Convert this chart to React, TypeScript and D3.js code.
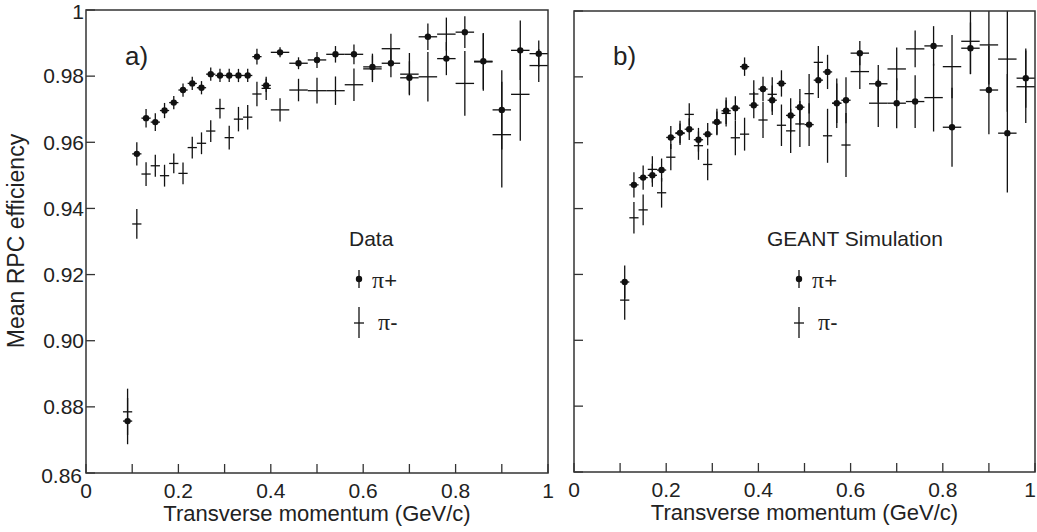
import React from "react";
import * as d3 from "d3";

// ---------- data ----------
const leftX = [0.09, 0.11, 0.13, 0.15, 0.17, 0.19, 0.21, 0.23, 0.25, 0.27, 0.29, 0.31, 0.33, 0.35, 0.37, 0.39,
  0.42, 0.46, 0.50, 0.54, 0.58, 0.62, 0.66, 0.70, 0.74, 0.78, 0.82, 0.86, 0.90, 0.94, 0.98];
const leftXErr = [0.01, 0.01, 0.01, 0.01, 0.01, 0.01, 0.01, 0.01, 0.01, 0.01, 0.01, 0.01, 0.01, 0.01, 0.01, 0.01,
  0.02, 0.02, 0.02, 0.02, 0.02, 0.02, 0.02, 0.02, 0.02, 0.02, 0.02, 0.02, 0.02, 0.02, 0.02];
const leftPiPlus = [0.8757, 0.9565, 0.9673, 0.9661, 0.9696, 0.9720, 0.9758, 0.9778, 0.9765, 0.9806, 0.9802, 0.9802,
  0.9802, 0.9802, 0.9859, 0.9772, 0.9872, 0.9839, 0.9849, 0.9866, 0.9866, 0.9828, 0.9839, 0.9795, 0.9919, 0.9853,
  0.9933, 0.9845, 0.9698, 0.9878, 0.9868];
const leftPiPlusErr = [0.007, 0.0035, 0.0028, 0.0027, 0.0023, 0.002, 0.002, 0.002, 0.002, 0.002, 0.002, 0.002,
  0.002, 0.002, 0.0024, 0.002, 0.0015, 0.0018, 0.0024, 0.0025, 0.003, 0.004, 0.0042, 0.005, 0.004, 0.005,
  0.0048, 0.0085, 0.012, 0.009, 0.004];
const leftPiMinus = [0.8785, 0.9353, 0.9504, 0.9529, 0.9499, 0.9536, 0.9506, 0.9584, 0.9597, 0.9634, 0.9702, 0.9614,
  0.967, 0.9676, 0.9746, 0.9763, 0.9698, 0.9758, 0.9756, 0.9756, 0.9774, 0.9822, 0.9883, 0.9806, 0.9798, 0.9927,
  0.9778, 0.9843, 0.9623, 0.9745, 0.9832];
const leftPiMinusErr = [0.007, 0.0045, 0.0036, 0.0033, 0.0033, 0.003, 0.0033, 0.0033, 0.0033, 0.0033, 0.003, 0.0036,
  0.0037, 0.0037, 0.0037, 0.0035, 0.0035, 0.0034, 0.0039, 0.0043, 0.0049, 0.004, 0.0045, 0.0064, 0.0075, 0.005,
  0.0098, 0.0087, 0.016, 0.014, 0.005];

const rightX = [0.11, 0.13, 0.15, 0.17, 0.19, 0.21, 0.23, 0.25, 0.27, 0.29, 0.31, 0.33, 0.35, 0.37, 0.39, 0.41,
  0.43, 0.45, 0.47, 0.49, 0.51, 0.53, 0.55, 0.57, 0.59, 0.62, 0.66, 0.70, 0.74, 0.78, 0.82, 0.86, 0.90, 0.94, 0.98];
const rightXErr = [0.01, 0.01, 0.01, 0.01, 0.01, 0.01, 0.01, 0.01, 0.01, 0.01, 0.01, 0.01, 0.01, 0.01, 0.01, 0.01,
  0.01, 0.01, 0.01, 0.01, 0.01, 0.01, 0.01, 0.01, 0.01, 0.02, 0.02, 0.02, 0.02, 0.02, 0.02, 0.02, 0.02, 0.02, 0.02];
const rightPiPlus = [0.9177, 0.9472, 0.9494, 0.9501, 0.9517, 0.9616, 0.963, 0.9641, 0.9609, 0.9626, 0.9663, 0.9697,
  0.9705, 0.9831, 0.9714, 0.9763, 0.9729, 0.978, 0.9683, 0.9708, 0.9655, 0.979, 0.9815, 0.972, 0.9729, 0.9872,
  0.9779, 0.972, 0.9725, 0.9894, 0.9647, 0.9887, 0.976, 0.9629, 0.9796];
const rightPiPlusErr = [0.005, 0.0038, 0.0037, 0.0035, 0.0035, 0.0035, 0.0037, 0.0033, 0.0036, 0.0034, 0.004, 0.004,
  0.0036, 0.0028, 0.004, 0.0037, 0.0045, 0.004, 0.0052, 0.0055, 0.0065, 0.0054, 0.0052, 0.006, 0.007, 0.0037,
  0.0057, 0.0076, 0.008, 0.006, 0.012, 0.0078, 0.0134, 0.018, 0.009];
const rightPiMinus = [0.9122, 0.9372, 0.9396, 0.9519, 0.9448, 0.9556, 0.9628, 0.9686, 0.9591, 0.9534, 0.966, 0.9689,
  0.9615, 0.9626, 0.9748, 0.9669, 0.9747, 0.9653, 0.9636, 0.9657, 0.9749, 0.9844, 0.9621, 0.972, 0.9593, 0.9816,
  0.972, 0.9824, 0.9885, 0.9737, 0.9831, 0.9908, 0.9897, 0.9854, 0.977];
const rightPiMinusErr = [0.006, 0.0048, 0.0047, 0.004, 0.0045, 0.004, 0.003, 0.0034, 0.0043, 0.0048, 0.0035, 0.004,
  0.0053, 0.005, 0.0042, 0.0055, 0.0052, 0.0063, 0.0067, 0.007, 0.006, 0.005, 0.0082, 0.0075, 0.0097, 0.0053,
  0.0072, 0.0065, 0.0056, 0.0103, 0.0096, 0.01, 0.012, 0.016, 0.011];

const xTickValues = [0, 0.1, 0.2, 0.3, 0.4, 0.5, 0.6, 0.7, 0.8, 0.9, 1];
const xTickLabels = ["0", "", "0.2", "", "0.4", "", "0.6", "", "0.8", "", "1"];
const yTickValues = [0.86, 0.88, 0.9, 0.92, 0.94, 0.96, 0.98, 1];
const yTickLabels = ["0.86", "0.88", "0.90", "0.92", "0.94", "0.96", "0.98", "1"];

const SANS = "'Liberation Sans', Arial, Helvetica, sans-serif";
const SERIF = "'Liberation Serif', 'Times New Roman', serif";
const INK = "#111";

type PanelProps = {
  id: string;
  x0: number; x1: number; yTop: number; yBot: number;
  xs: number[]; xErr: number[];
  plus: number[]; plusErr: number[];
  minus: number[]; minusErr: number[];
  showYLabels: boolean;
  tag: string; tagX: number;
  legendTitle: string; legendX: number;
  legendMarkX: number;
};

function Panel(p: PanelProps) {
  const x = d3.scaleLinear().domain([0, 1]).range([p.x0, p.x1]);
  const y = d3.scaleLinear().domain([0.86, 1]).range([p.yBot, p.yTop]);
  const tick = 9;
  const errBar = (xv: number, xe: number, v: number, e: number, key: string, dot: boolean) => (
    <g key={key}>
      <line x1={x(xv)} x2={x(xv)} y1={y(v - e)} y2={y(v + e)} stroke={INK} strokeWidth={1.3} />
      <line x1={x(xv - xe)} x2={x(xv + xe)} y1={y(v)} y2={y(v)} stroke={INK} strokeWidth={1.3} />
      {dot && <circle cx={x(xv)} cy={y(v)} r={3.2} fill={INK} />}
    </g>
  );
  return (
    <g>
      <defs>
        <clipPath id={p.id}>
          <rect x={p.x0} y={p.yTop} width={p.x1 - p.x0} height={p.yBot - p.yTop} />
        </clipPath>
      </defs>
      <g clipPath={`url(#${p.id})`}>
        {p.xs.map((xv, i) => errBar(xv, p.xErr[i], p.minus[i], p.minusErr[i], `m${i}`, false))}
        {p.xs.map((xv, i) => errBar(xv, p.xErr[i], p.plus[i], p.plusErr[i], `p${i}`, true))}
      </g>
      {xTickValues.map((t, i) => (
        <g key={`xt${i}`}>
          <line x1={x(t)} x2={x(t)} y1={p.yBot} y2={p.yBot - tick} stroke="#333" strokeWidth={1.3} />
          {xTickLabels[i] !== "" && (
            <text x={Math.min(x(t), 1030)} y={p.yBot + 25} textAnchor="middle" fontFamily={SANS} fontSize={21} fill="#222">
              {xTickLabels[i]}
            </text>
          )}
        </g>
      ))}
      {yTickValues.map((t, i) => (
        <g key={`yt${i}`}>
          <line x1={p.x0} x2={p.x0 + tick} y1={y(t)} y2={y(t)} stroke="#333" strokeWidth={1.3} />
          {p.showYLabels && (
            <text x={p.x0 - (i === 0 ? 4 : 2)} y={y(t) + (i === 0 ? 3 : 0) + (i === yTickValues.length - 1 ? 2 : 0)} dy="0.35em"
              textAnchor="end" fontFamily={SANS} fontSize={21} fill="#222">
              {yTickLabels[i]}
            </text>
          )}
        </g>
      ))}
      <rect x={p.x0} y={p.yTop} width={p.x1 - p.x0} height={p.yBot - p.yTop} fill="none" stroke="#333" strokeWidth={1.5} />
      <text x={(p.x0 + p.x1) / 2} y={p.yBot + 48} textAnchor="middle" fontFamily={SANS} fontSize={22} fill="#222">
        Transverse momentum (GeV/c)
      </text>
      <text x={p.tagX} y={65} fontFamily={SANS} fontSize={26} fill="#222">{p.tag}</text>
      <text x={p.legendX} y={246} fontFamily={SANS} fontSize={21} fill="#222">{p.legendTitle}</text>
      <line x1={p.legendMarkX} x2={p.legendMarkX} y1={270} y2={288} stroke={INK} strokeWidth={1.3} />
      <circle cx={p.legendMarkX} cy={279} r={3.2} fill={INK} />
      <text x={p.legendMarkX + 13} y={288} fontFamily={SANS} fontSize={22} fill="#222">
        <tspan fontFamily={SERIF} fontSize={24}>π</tspan>+
      </text>
      <line x1={p.legendMarkX} x2={p.legendMarkX} y1={307} y2={338} stroke={INK} strokeWidth={1.3} />
      <line x1={p.legendMarkX - 5} x2={p.legendMarkX + 5} y1={323} y2={323} stroke={INK} strokeWidth={1.3} />
      <text x={p.legendMarkX + 19} y={330} fontFamily={SANS} fontSize={22} fill="#222">
        <tspan fontFamily={SERIF} fontSize={24}>π</tspan>-
      </text>
    </g>
  );
}

export default function App() {
  return (
    <div style={{ position: "absolute", left: 0, top: 0 }}>
      <svg width={1037} height={532} style={{ display: "block", background: "#fff" }}>
        <text transform="translate(24,241) rotate(-90)" textAnchor="middle" fontFamily={SANS} fontSize={23} fill="#222">
          Mean RPC efficiency
        </text>
        <Panel id="clipL" x0={86} x1={548} yTop={10} yBot={473}
          xs={leftX} xErr={leftXErr} plus={leftPiPlus} plusErr={leftPiPlusErr}
          minus={leftPiMinus} minusErr={leftPiMinusErr} showYLabels={true}
          tag="a)" tagX={125} legendTitle="Data" legendX={349} legendMarkX={359} />
        <Panel id="clipR" x0={574} x1={1035} yTop={11} yBot={472}
          xs={rightX} xErr={rightXErr} plus={rightPiPlus} plusErr={rightPiPlusErr}
          minus={rightPiMinus} minusErr={rightPiMinusErr} showYLabels={false}
          tag="b)" tagX={613} legendTitle="GEANT Simulation" legendX={767} legendMarkX={799} />
      </svg>
    </div>
  );
}
